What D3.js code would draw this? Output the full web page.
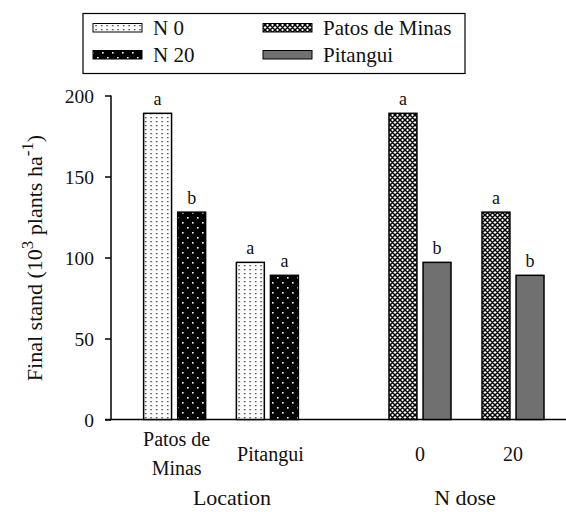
<!DOCTYPE html>
<html><head><meta charset="utf-8">
<script src="https://cdn.jsdelivr.net/npm/d3@7"></script>
<style>body{margin:0;background:#fff}svg{display:block}</style>
</head><body><svg id="c" width="566" height="512"></svg>
<script>
const yTicks = [0, 50, 100, 150, 200];
const locations = ["Patos de Minas", "Pitangui"];
const locationLabelLines = [["Patos de", "Minas"], ["Pitangui"]];
const nDoses = ["0", "20"];
const n0Values = [189, 97];
const n20Values = [128, 89];
const patosValues = [189, 128];
const pitanguiValues = [97, 89];
const n0Letters = ["a", "a"];
const n20Letters = ["b", "a"];
const patosLetters = ["a", "a"];
const pitanguiLetters = ["b", "b"];

const FONT = "'Liberation Serif', 'Times New Roman', serif";
const svg = d3.select("#c");
const defs = svg.append("defs");

function txt(sel){ return sel.append("text").style("font-family", FONT).attr("fill", "#111"); }

// patterns
const pN0 = defs.append("pattern").attr("id","pN0").attr("patternUnits","userSpaceOnUse").attr("width",5.5).attr("height",4);
pN0.append("rect").attr("width",5.5).attr("height",4).attr("fill","#fff");
pN0.append("rect").attr("x",2).attr("y",1).attr("width",1.3).attr("height",1.3).attr("fill","#222");

const pN20 = defs.append("pattern").attr("id","pN20").attr("patternUnits","userSpaceOnUse").attr("width",10).attr("height",10);
pN20.append("rect").attr("width",10).attr("height",10).attr("fill","#000");
pN20.append("rect").attr("x",2).attr("y",2).attr("width",1.6).attr("height",1.6).attr("fill","#fff");
pN20.append("rect").attr("x",7).attr("y",7).attr("width",1.6).attr("height",1.6).attr("fill","#fff");

const pPat = defs.append("pattern").attr("id","pPat").attr("patternUnits","userSpaceOnUse").attr("width",5).attr("height",5);
pPat.append("rect").attr("width",5).attr("height",5).attr("fill","#fff");
pPat.append("path").attr("d","M0,0L5,5M5,0L0,5M-1,4L1,6M4,-1L6,1M-1,1L1,-1M4,6L6,4").attr("stroke","#000").attr("stroke-width",1.5);

const greyFill = "#707070";

// scales
const y = d3.scaleLinear().domain([0, 200]).range([419.5, 95.5]);
const xAxisLine = d3.scaleLinear().domain([0, 1]).range([105, 566]);
const xLoc = d3.scaleBand().domain(locations).range([128.25, 313.75]);
const xDose = d3.scaleBand().domain(nDoses).range([373.5, 559.5]);
const inner = d3.scaleBand().domain(["s1","s2"]).range([-31, 31]).paddingInner(0.18);

// y axis
const yAxis = svg.append("g").attr("transform","translate(111,0)")
  .call(d3.axisLeft(y).tickValues(yTicks).tickSize(6).tickPadding(11).tickFormat(d3.format("d")));
yAxis.attr("font-family", null).attr("font-size", null);
yAxis.select(".domain").attr("stroke","#000").attr("stroke-width",1.5).attr("d","M0,"+y(200)+"V"+y(0));
yAxis.selectAll(".tick line").attr("stroke","#000").attr("stroke-width",1.5);
yAxis.selectAll(".tick text").attr("fill","#111").attr("dy","0.34em")
  .style("font-family", FONT).style("font-size","19.5px");

// x baseline
svg.append("line").attr("x1",xAxisLine(0)).attr("x2",xAxisLine(1)).attr("y1",y(0)).attr("y2",y(0))
  .attr("stroke","#000").attr("stroke-width",1.5);

function drawBars(xs, cats, vals, key, fill, letters){
  const g = svg.append("g");
  cats.forEach((c,i)=>{
    const x0 = xs(c) + xs.bandwidth()/2 + inner(key);
    g.append("rect").attr("x",x0).attr("y",y(vals[i])).attr("width",inner.bandwidth())
      .attr("height",y(0)-y(vals[i])).attr("fill",fill).attr("stroke","#000").attr("stroke-width",1.5);
    txt(g).attr("x",x0+inner.bandwidth()/2).attr("y",y(vals[i])-8)
      .attr("text-anchor","middle").style("font-size","18px").text(letters[i]);
  });
}
drawBars(xLoc, locations, n0Values, "s1", "url(#pN0)", n0Letters);
drawBars(xLoc, locations, n20Values, "s2", "url(#pN20)", n20Letters);
drawBars(xDose, nDoses, patosValues, "s1", "url(#pPat)", patosLetters);
drawBars(xDose, nDoses, pitanguiValues, "s2", greyFill, pitanguiLetters);

// category labels
locations.forEach((c,i)=>{
  const lines = locationLabelLines[i];
  const cx = xLoc(c)+xLoc.bandwidth()/2 + (lines.length===2 ? 2 : 3);
  const t = txt(svg).attr("text-anchor","middle").style("font-size","20px");
  if(lines.length===2){
    t.append("tspan").attr("x",cx).attr("y",446).text(lines[0]);
    t.append("tspan").attr("x",cx).attr("y",475).text(lines[1]);
  } else {
    t.append("tspan").attr("x",cx).attr("y",461).text(lines[0]);
  }
});
nDoses.forEach(d=>{
  txt(svg).attr("x",xDose(d)+xDose.bandwidth()/2).attr("y",461)
    .attr("text-anchor","middle").style("font-size","20px").text(d);
});

// group titles
txt(svg).attr("x",232).attr("y",505).attr("text-anchor","middle").style("font-size","22px").text("Location");
txt(svg).attr("x",465).attr("y",505).attr("text-anchor","middle").style("font-size","22px").text("N dose");

// y title
const yt = txt(svg).attr("transform","translate(42,258) rotate(-90)")
  .attr("text-anchor","middle").style("font-size","22px");
yt.append("tspan").text("Final stand (10");
yt.append("tspan").attr("dy",-9).style("font-size","17px").text("3");
yt.append("tspan").attr("dy",9).text(" plants ha");
yt.append("tspan").attr("dy",-9).style("font-size","17px").text("-1");
yt.append("tspan").attr("dy",9).text(")");

// legend
const leg = svg.append("g");
leg.append("rect").attr("x",83).attr("y",13.5).attr("width",382).attr("height",60)
  .attr("fill","#fff").attr("stroke","#000").attr("stroke-width",1.2);
const legendItems = [
  {label:"N 0", fill:"url(#pN0)", x:93, y:23.5},
  {label:"N 20", fill:"url(#pN20)", x:93, y:50.5},
  {label:"Patos de Minas", fill:"url(#pPat)", x:263, y:23.5},
  {label:"Pitangui", fill:greyFill, x:263, y:50.5}
];
legendItems.forEach(d=>{
  leg.append("rect").attr("x",d.x).attr("y",d.y).attr("width",49).attr("height",8.5)
    .attr("fill",d.fill).attr("stroke","#000").attr("stroke-width",1);
  txt(leg).attr("x",d.x+60).attr("y",d.y+11.5).style("font-size","21px").text(d.label);
});
</script></body></html>
